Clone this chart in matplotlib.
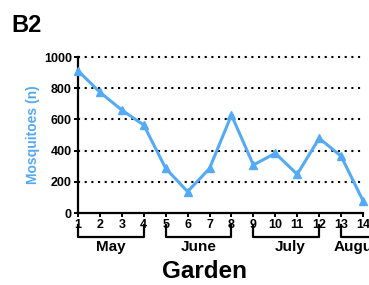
import numpy as np
import matplotlib
import matplotlib.pyplot as plt
import matplotlib.transforms as mtransforms

matplotlib.use('agg')
plt.rcParams['font.family'] = ['Liberation Sans', 'DejaVu Sans']

visits = [1, 2, 3, 4, 5, 6, 7, 8, 9, 10, 11, 12, 13, 14]
mosquitoes = [912, 774, 660, 564, 286, 137, 286, 628, 308, 383, 248, 479, 365, 79]
months = ['May', 'June', 'July', 'August']
month_spans = [(1, 4), (5, 8), (9, 12), (13, 14.6)]
month_label_x = [2.5, 6.5, 10.7, 13.85]

blue = '#55aaf5'

fig = plt.figure(figsize=(3.69, 2.85), dpi=100)
ax = fig.add_axes([0.2114, 0.2526, 0.7723, 0.5474])

ax.plot(visits, mosquitoes, color=blue, lw=2.2, marker='^', ms=5.5, zorder=3, clip_on=False)

ax.set_xlim(1, 14)
ax.set_ylim(0, 1000)
ax.set_yticks([0, 200, 400, 600, 800, 1000])
ax.set_xticks(visits)
for y in [200, 400, 600, 800, 1000]:
    ax.plot([1, 14], [y, y], color='black', ls=(0, (1, 2.2)), lw=1.5, zorder=1, clip_on=False)

for side in ['top', 'right']:
    ax.spines[side].set_visible(False)
for side in ['left', 'bottom']:
    ax.spines[side].set_linewidth(1.6)
ax.tick_params(axis='both', width=1.4, length=3, labelsize=9, pad=1.5)
for lab in ax.get_xticklabels() + ax.get_yticklabels():
    lab.set_fontweight('bold')

ax.set_ylabel('Mosquitoes (n)', color=blue, fontsize=10, fontweight='bold', labelpad=3)

# month brackets under the x axis
trans = mtransforms.blended_transform_factory(ax.transData, ax.transAxes)
for (a, b), name, lx in zip(month_spans, months, month_label_x):
    ax.plot([a, a, b, b], [-0.08, -0.155, -0.155, -0.08], color='black', lw=1.6,
            transform=trans, clip_on=False)
    ax.text(lx, -0.22, name, transform=trans, ha='center', va='center',
            fontsize=11, fontweight='bold')

fig.text(0.555, 0.048, 'Garden', ha='center', va='center', fontsize=17.5, fontweight='bold')
fig.text(0.03, 0.91, 'B2', ha='left', va='center', fontsize=17, fontweight='bold')

fig.savefig('out.png', dpi=100)
